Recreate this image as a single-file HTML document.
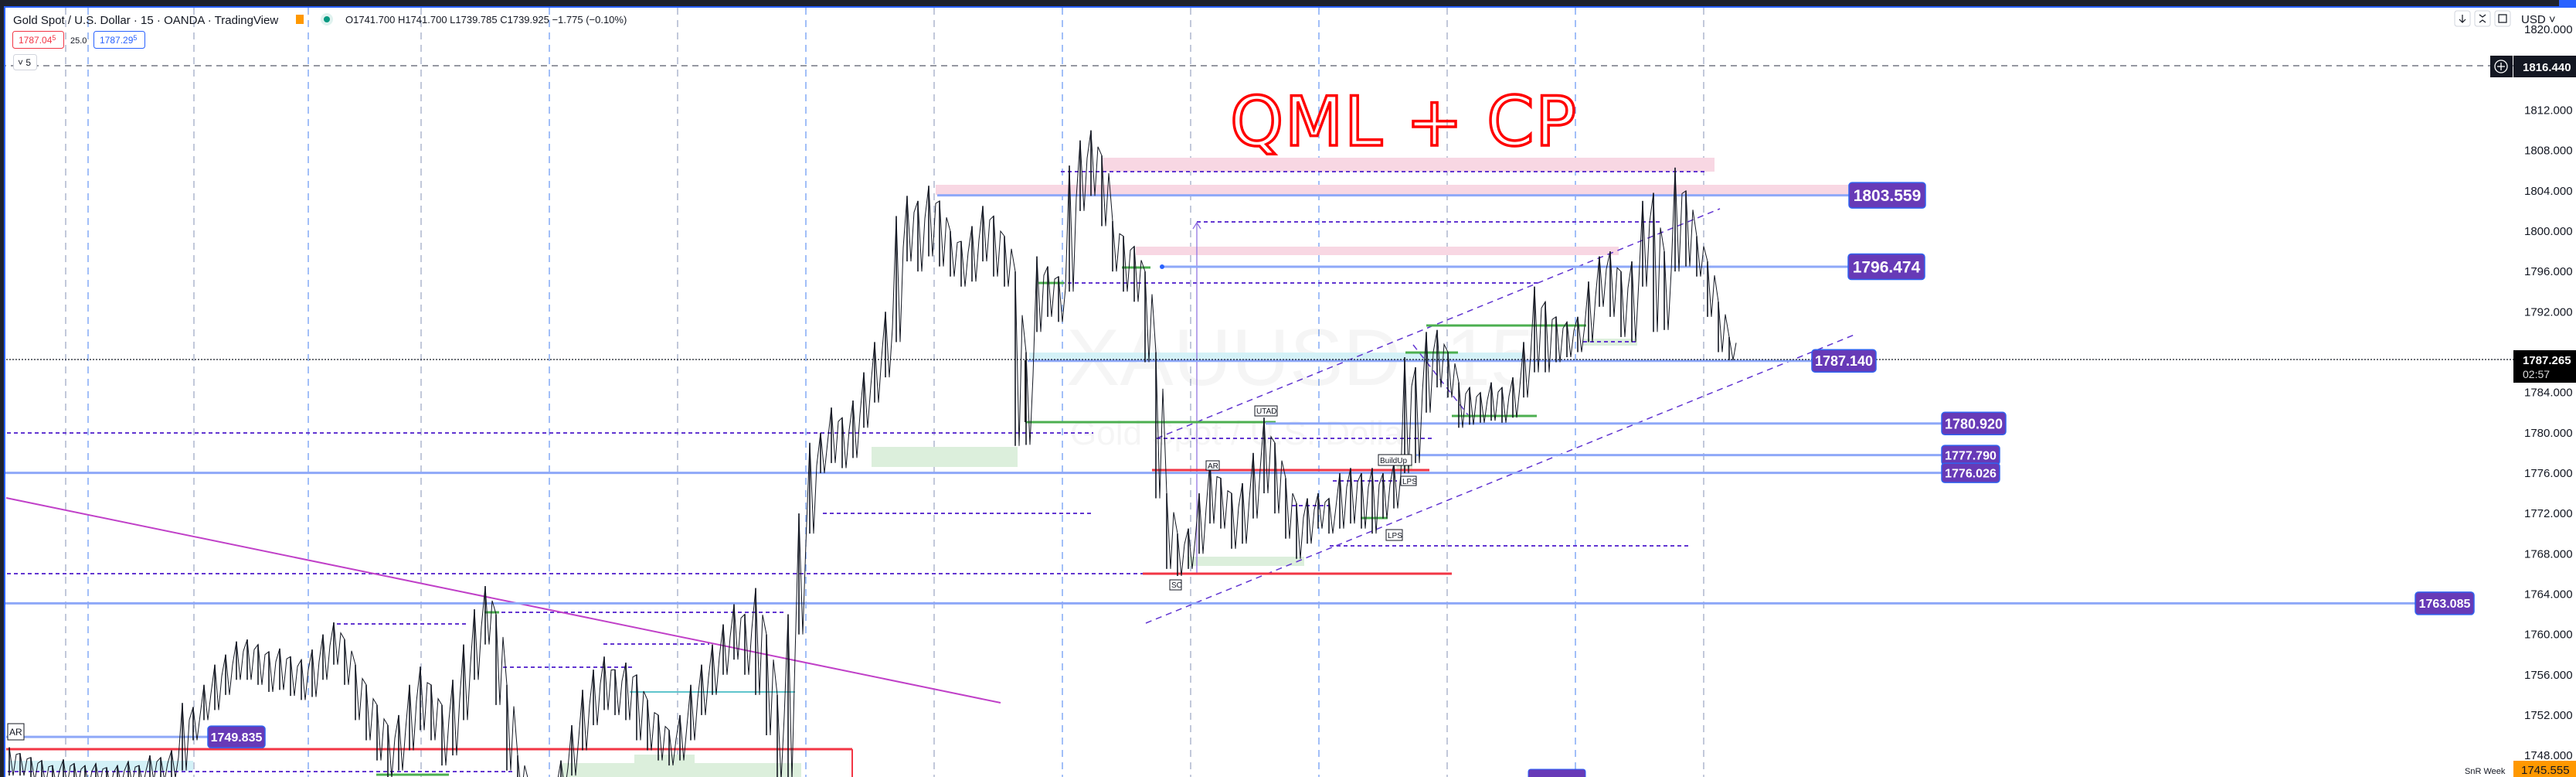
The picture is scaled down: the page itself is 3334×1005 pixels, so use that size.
<!DOCTYPE html>
<html><head><meta charset="utf-8">
<style>
html,body{margin:0;padding:0;background:#fff;width:3334px;height:1005px;overflow:hidden}
svg{display:block;font-family:"Liberation Sans",sans-serif}
</style></head>
<body>
<svg id="chart" width="3334" height="1005" viewBox="0 0 3334 1005" xmlns="http://www.w3.org/2000/svg">
<rect x="0" y="0" width="3334" height="1005" fill="#fff"/>
<g id="grid"></g>
<g>
<text x="1380" y="498" font-size="104" fill="#000" fill-opacity="0.04">XAUUSD, 15</text>
<text x="1385" y="575" font-size="44" fill="#000" fill-opacity="0.04">Gold Spot / U.S. Dollar</text>
</g>
<g>
<rect x="1427" y="204" width="792" height="18" fill="#f8d7e3"/>
<rect x="1211" y="239" width="1182" height="13" fill="#f8d7e3"/>
<rect x="1470" y="319" width="625" height="11" fill="#f8d7e3"/>
<rect x="1128" y="578" width="189" height="26" fill="#dcefdc"/>
<rect x="2049" y="438" width="70" height="9" fill="#dcefdc"/>
<rect x="1537" y="720" width="151" height="12" fill="#dcefdc"/>
<rect x="821" y="976" width="78" height="14" fill="#dcefdc"/>
<rect x="726" y="987" width="311" height="18" fill="#dcefdc"/>
<rect x="1808" y="600" width="20" height="8" fill="#dcefdc"/>
<rect x="1332" y="456" width="638" height="10" fill="#d3f1f7"/>
<rect x="10" y="984" width="240" height="13" fill="#d3f1f7"/>
</g>
<g stroke="#6236d1" stroke-width="2" stroke-dasharray="5 4">
<line x1="0" y1="85" x2="3253" y2="85" stroke="#9598a1" stroke-dasharray="8 6"/>
<line x1="1373" y1="222" x2="2210" y2="222"/>
<line x1="1549" y1="287" x2="2148" y2="287"/>
<line x1="1373" y1="366" x2="1991" y2="366"/>
<line x1="2049" y1="442" x2="2119" y2="442"/>
<line x1="1497" y1="567" x2="1854" y2="567"/>
<line x1="1725" y1="622" x2="1808" y2="622"/>
<line x1="1672" y1="654" x2="1721" y2="654"/>
<line x1="1721" y1="706" x2="2187" y2="706"/>
<line x1="0" y1="742" x2="1479" y2="742"/>
<line x1="0" y1="560" x2="1415" y2="560"/>
<line x1="1065" y1="664" x2="1412" y2="664"/>
<line x1="436" y1="807" x2="606" y2="807"/>
<line x1="631" y1="792" x2="1018" y2="792"/>
<line x1="781" y1="833" x2="918" y2="833"/>
<line x1="651" y1="863" x2="821" y2="863"/>
<line x1="10" y1="998" x2="665" y2="998"/>
<line x1="1497" y1="567" x2="2226" y2="270" stroke-width="1.5" stroke-dasharray="8 6"/>
<line x1="1483" y1="806" x2="2400" y2="433" stroke-width="1.5" stroke-dasharray="8 6"/>
<line x1="1829" y1="446" x2="1908" y2="547" stroke-width="1.5" stroke-dasharray="8 6"/>
</g>
<line x1="1549" y1="743" x2="1549" y2="289" stroke="#8a6ae0" stroke-width="1.2"/>
<polyline points="1544,296 1549,288 1554,296" fill="none" stroke="#8a6ae0" stroke-width="1.2"/>
<line x1="8" y1="644" x2="1295" y2="909" stroke="#c040c8" stroke-width="2"/>
<line x1="815" y1="895" x2="1029" y2="895" stroke="#5fc5cc" stroke-width="2"/>
<g stroke="#4caf50" stroke-width="3">
<line x1="1452" y1="346" x2="1489" y2="346"/>
<line x1="1344" y1="366" x2="1377" y2="366"/>
<line x1="1846" y1="421" x2="2053" y2="421"/>
<line x1="1819" y1="456" x2="1887" y2="456"/>
<line x1="1327" y1="546" x2="1651" y2="546"/>
<line x1="1879" y1="538" x2="1989" y2="538"/>
<line x1="1761" y1="670" x2="1796" y2="670"/>
<line x1="627" y1="792" x2="646" y2="792"/>
<line x1="487" y1="1002" x2="581" y2="1002"/>
</g>
<line x1="1327" y1="466" x2="1327" y2="546" stroke="#222" stroke-width="2"/>
<g stroke="#f23645" stroke-width="3">
<line x1="1491" y1="608" x2="1850" y2="608"/>
<line x1="1479" y1="742" x2="1879" y2="742"/>
<line x1="8" y1="969" x2="1103" y2="969"/>
<line x1="1103" y1="969" x2="1103" y2="1005" stroke-width="2"/>
</g>
<g id="levels"></g>
<g id="candles"></g>
<line x1="0" y1="465" x2="3253" y2="465" stroke="#131722" stroke-width="1.2" stroke-dasharray="2 2"/>
<g id="levelLabels"></g>
<g font-size="10" fill="#131722">
<rect x="1624" y="525" width="29" height="13" fill="#fff" stroke="#131722"/><text x="1626" y="535">UTAD</text>
<rect x="1561" y="596" width="17" height="12" fill="#fff" stroke="#131722"/><text x="1563" y="606">AR</text>
<rect x="1784" y="588" width="43" height="14" fill="#fff" stroke="#131722"/><text x="1786" y="599">BuildUp</text>
<rect x="1813" y="616" width="20" height="12" fill="#fff" stroke="#131722"/><text x="1815" y="626">LPS</text>
<rect x="1794" y="685" width="21" height="14" fill="#fff" stroke="#131722"/><text x="1796" y="696">LPS</text>
<rect x="1514" y="750" width="15" height="13" fill="#fff" stroke="#131722"/><text x="1516" y="760">SC</text>
<rect x="10" y="936" width="21" height="21" fill="#fff" stroke="#131722"/><text x="12" y="951" font-size="12">AR</text>
</g>
<text x="1592" y="188" font-size="88" fill="none" stroke="#f00" stroke-width="3.5" textLength="448" lengthAdjust="spacing" font-family="'DejaVu Sans ExtraLight', 'DejaVu Sans', sans-serif">QML + CP</text>
<rect x="1978" y="995" width="74" height="14" rx="3" fill="#673ab7" stroke="#2962ff"/>
<rect x="3253" y="0" width="81" height="1005" fill="#fff"/>
<g id="axis" font-size="15" fill="#131722"></g>
<rect x="3223" y="72" width="29" height="28" fill="#131722"/>
<circle cx="3237" cy="86" r="8" fill="none" stroke="#fff" stroke-width="1.3"/>
<path d="M3232 86h10M3237 81v10" stroke="#fff" stroke-width="1.3"/>
<rect x="3253" y="72" width="81" height="28" fill="#131722"/>
<text x="3265" y="92" font-size="15" font-weight="bold" fill="#fff">1816.440</text>
<rect x="3253" y="453" width="81" height="42" fill="#000"/>
<text x="3265" y="471" font-size="15" font-weight="bold" fill="#fff">1787.265</text>
<text x="3265" y="489" font-size="14" fill="#ddd">02:57</text>
<rect x="3253" y="984" width="81" height="21" fill="#ff9800"/>
<text x="3263" y="1001" font-size="15" fill="#131722">1745.555</text>
<text x="3190" y="1001" font-size="11" fill="#131722">SnR Week</text>
<rect x="0" y="0" width="3334" height="8" fill="#1e222d"/>
<rect x="0" y="8" width="3334" height="2" fill="#2962ff"/>
<rect x="3312" y="0" width="22" height="8" fill="#2962ff"/>
<rect x="0" y="0" width="5" height="1005" fill="#1e222d"/>
<rect x="5" y="8" width="2" height="997" fill="#2962ff"/>
<g fill="#fff" stroke="#d1d4dc">
<rect x="3177" y="14" width="20" height="20" rx="3"/>
<rect x="3203" y="14" width="20" height="20" rx="3"/>
<rect x="3229" y="14" width="20" height="20" rx="3"/>
</g>
<path d="M3187 19v10M3183 25l4 4 4-4M3209 19l4 3 4-3M3209 29l4-3 4 3M3234 19h10v10h-10z" fill="none" stroke="#131722" stroke-width="1.2"/>
<text x="3263" y="30" font-size="15" fill="#131722">USD ˅</text>
<text x="17" y="31" font-size="15" fill="#131722">Gold Spot / U.S. Dollar · 15 · OANDA · TradingView</text>
<rect x="383" y="19" width="10" height="12" fill="#ff9800"/>
<circle cx="423" cy="25" r="8" fill="#e0f2ef"/>
<circle cx="423" cy="25" r="4" fill="#089981"/>
<text x="447" y="30" font-size="13" fill="#131722">O1741.700 H1741.700 L1739.785 C1739.925 −1.775 (−0.10%)</text>
<rect x="16.5" y="40.5" width="66" height="22" rx="3" fill="#fff" stroke="#f23645"/>
<text x="24" y="56" font-size="12" fill="#f23645">1787.04<tspan font-size="9" dy="-4">5</tspan></text>
<text x="91" y="56" font-size="11" fill="#131722">25.0</text>
<rect x="121.5" y="40.5" width="66" height="22" rx="3" fill="#fff" stroke="#2962ff"/>
<text x="129" y="56" font-size="12" fill="#2962ff">1787.29<tspan font-size="9" dy="-4">5</tspan></text>
<rect x="17.5" y="70.5" width="30" height="20" rx="3" fill="#fff" stroke="#d1d4dc"/>
<text x="23" y="85" font-size="12" fill="#131722">˅ 5</text>
</svg>
<script>
const tickValues = [1820,1812,1808,1804,1800,1796,1792,1784,1780,1776,1772,1768,1764,1760,1756,1752,1748];
const highs = [1748.8,1748.2,1747.8,1747.5,1747,1747.6,1747.2,1747,1747.2,1746.8,1747,1747.4,1747,1748,1747.8,1748.5,1753.2,1752.8,1755,1757,1758,1759.3,1759.5,1759,1758.3,1758.6,1757.8,1757.5,1758.5,1760,1761.2,1759.5,1757,1755,1753,1751,1752,1755,1756.8,1755,1753,1755.5,1759,1762.5,1764.8,1762,1755,1748,1745.5,1745,1745.8,1747.5,1751,1754.5,1756.5,1757.8,1756.5,1757.2,1756,1753.5,1752,1750.5,1752,1755,1757,1759,1761,1763,1762,1764.6,1760,1754,1762,1772,1779,1780,1782.5,1781.5,1783.2,1786,1789,1792,1801.5,1803.5,1803,1804.5,1803,1800,1799,1800.5,1802.5,1801.5,1799.5,1796,1788,1797.5,1796.5,1795.5,1806.5,1809,1810,1807.5,1801,1799.5,1798.5,1796,1788,1774,1770,1770.5,1774,1777.2,1775.5,1774,1775,1778,1781.5,1779,1775.5,1773,1773.5,1774,1773.5,1776,1776.5,1776,1776.5,1776,1777,1787.5,1786.5,1790,1790.2,1788,1785,1784.5,1784,1785,1784.5,1785.5,1789,1794.5,1793,1791.5,1791,1791.5,1795,1797.5,1798,1796,1797,1803,1803.8,1798,1806.3,1804,1799.5,1797,1793,1789.5];
const lows = [1746,1746,1745.5,1745,1745,1745,1745,1744.8,1745,1744.8,1745,1745.2,1745,1745.5,1745.5,1745.8,1746.5,1749.5,1751.5,1752.5,1754,1755.5,1755.5,1755,1754.3,1754.5,1753.9,1753.5,1753.8,1755.5,1757,1755,1751.5,1749.5,1747.5,1745.8,1746.5,1748.5,1750.5,1749.5,1747,1748,1751.5,1755.5,1759,1753,1746.5,1744,1743.5,1743,1743.5,1744.5,1746,1748.5,1751,1752.5,1752,1751.5,1749.5,1748.5,1747.5,1747,1747.5,1749.5,1752,1754,1756,1757.5,1756,1754,1750,1745.5,1745.5,1760,1770,1776,1777,1776.5,1777.5,1780.5,1783,1785.5,1789,1797,1796,1797.5,1796.5,1795.5,1794.5,1795,1797,1795.5,1794.5,1778.7,1778.8,1790,1791.5,1791,1794,1802,1803.5,1800.5,1796,1794,1793,1787,1773.5,1766.5,1765.8,1766.5,1768,1771,1770.5,1768.5,1769,1771.5,1774,1772,1769.5,1767.5,1769,1770.5,1770,1770.5,1771,1770.5,1770,1771.5,1772.5,1776,1777,1782,1784.5,1783.5,1780.5,1780.8,1781,1781.2,1781,1781.5,1783.5,1786,1786,1787,1787.5,1788,1789,1792.5,1791.5,1789.5,1789,1794.5,1790,1790.2,1796,1796.5,1795.5,1791.5,1788,1787.2];
const levelPrices = [1803.559,1796.474,1787.140,1780.920,1777.790,1776.026,1763.085,1749.835];
const levelLabels = ["1803.559","1796.474","1787.140","1780.920","1777.790","1776.026","1763.085","1749.835"];
const levelStarts = [1213,1504,1330,1638,1833,7,7,8];
const labelX = [2393,2392,2345,2513,2513,2513,3126,269];
const labelW = [99,99,83,83,75,75,76,74];
const labelH = [33,33,29,29,25,25,29,28];
const labelFont = [21,21,18,18,16,16,16,16];
const gridX = [85,114,251,399,545,711,877,1043,1209,1375,1541,1707,1873,2039,2205];

const NS = "http://www.w3.org/2000/svg";
function yScale(p){ return 299 + (1800 - p) * 13.04; }
function xScale(i){ return 12 + i * 14; }
function mk(tag, attrs, parent){ const e = document.createElementNS(NS, tag); for (const k in attrs) e.setAttribute(k, attrs[k]); parent.appendChild(e); return e; }

const grid = document.getElementById('grid');
gridX.forEach((gx, i) => {
  const l = mk('line', {x1: gx, y1: 10, x2: gx, y2: 1005, stroke: i % 2 ? '#3d7bf0' : '#7f8fb3', 'stroke-width': 1.2, 'stroke-dasharray': '9 7', 'stroke-opacity': 0.8}, grid);
  
  
});

const axis = document.getElementById('axis');
tickValues.forEach(v => {
  const t = mk('text', {x: 3267, y: yScale(v) + 5}, axis);
  t.textContent = v.toFixed(3);
  
  
});

const lv = document.getElementById('levels');
const lb = document.getElementById('levelLabels');
levelPrices.forEach((p, i) => {
  const y = yScale(p);
  const l = mk('line', {x1: levelStarts[i], y1: y, x2: labelX[i], y2: y, stroke: '#8ea8f8', 'stroke-width': 3}, lv);
  
  
  const r = mk('rect', {x: labelX[i], y: y - labelH[i] / 2, width: labelW[i], height: labelH[i], rx: 4, fill: '#673ab7', stroke: '#2f63f0', 'stroke-width': 1.5}, lb);
  
  
  const t = mk('text', {x: labelX[i] + labelW[i] / 2, y: y + labelFont[i] * 0.36, 'text-anchor': 'middle', 'font-size': labelFont[i], 'font-weight': 'bold', fill: '#fff'}, lb);
  t.textContent = levelLabels[i];
  
  
});
const dot = mk('circle', {cx: 1504, cy: yScale(levelPrices[1]), r: 3, fill: '#2962ff'}, lv);



const cg = document.getElementById('candles');
let pts = [];
highs.forEach((h, i) => {
  const x = xScale(i);
  const b = mk('line', {x1: x, y1: yScale(h), x2: x, y2: yScale(lows[i]), stroke: '#131722', 'stroke-width': 1.6}, cg);
  
  
  pts.push(x + ',' + yScale(h).toFixed(1));
  pts.push((x + 5).toFixed(1) + ',' + yScale(lows[i]).toFixed(1));
  pts.push((x + 9).toFixed(1) + ',' + yScale((h + lows[i]) / 2 + (h - lows[i]) * 0.25).toFixed(1));
});
const zz = mk('polyline', {points: pts.join(' '), fill: 'none', stroke: '#131722', 'stroke-width': 1}, cg);


</script>
</body></html>
